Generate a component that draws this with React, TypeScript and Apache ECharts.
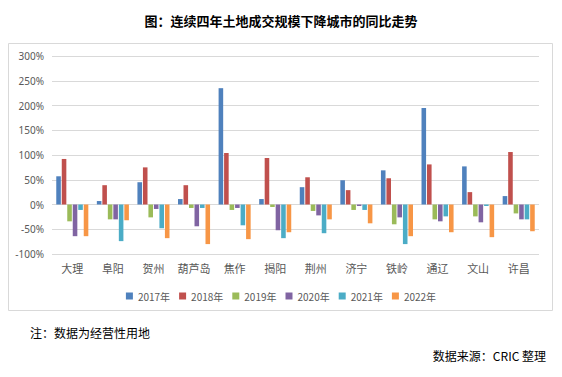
import React, { useEffect, useRef } from "react";
import * as echarts from "echarts";

const categories = ["大理", "阜阳", "贺州", "葫芦岛", "焦作", "揭阳", "荆州", "济宁", "铁岭", "通辽", "文山", "许昌"];
const years = ["2017年", "2018年", "2019年", "2020年", "2021年", "2022年"];
const v2017 = [57, 7, 45, 11, 235, 11, 35, 49, 69, 195, 77, 17];
const v2018 = [92, 39, 75, 39, 104, 94, 55, 29, 53, 81, 25, 106];
const v2019 = [-34, -30, -26, -7, -11, -5, -13, -11, -40, -30, -24, -18];
const v2020 = [-64, -30, -9, -44, -7, -52, -22, -3, -26, -34, -36, -30];
const v2021 = [-11, -74, -48, -7, -42, -68, -58, -11, -80, -24, -3, -30];
const v2022 = [-64, -32, -68, -80, -70, -56, -30, -38, -64, -56, -66, -54];
const colors = ["#4f81bd", "#c0504d", "#9bbb59", "#8064a2", "#4bacc6", "#f79646"];
const seriesData = [v2017, v2018, v2019, v2020, v2021, v2022];

export default function App() {
  const ref = useRef<HTMLDivElement>(null);
  useEffect(() => {
    if (!ref.current) return;
    const chart = echarts.init(ref.current, undefined, { renderer: "svg" });
    chart.setOption({
      animation: false,
      backgroundColor: "#ffffff",
      color: colors,
      title: {
        text: "图：连续四年土地成交规模下降城市的同比走势",
        left: "center",
        top: 9,
        textStyle: { fontFamily: "Noto Sans CJK SC", fontSize: 13, fontWeight: "bold", color: "#000" },
      },
      legend: {
        data: years,
        top: 286,
        left: "center",
        itemWidth: 7,
        itemHeight: 7,
        itemGap: 9,
        icon: "rect",
        textStyle: { fontFamily: "Noto Sans CJK SC", fontSize: 10, color: "#595959" },
      },
      grid: { left: 52, right: 23, top: 56, bottom: 123 },
      xAxis: {
        type: "category",
        data: categories,
        axisLine: { show: false },
        axisTick: { show: false },
        axisLabel: { interval: 0, color: "#595959", fontSize: 11, fontFamily: "Noto Sans CJK SC", margin: 8 },
      },
      yAxis: {
        type: "value",
        min: -100,
        max: 300,
        interval: 50,
        axisLine: { show: false },
        axisTick: { show: false },
        splitLine: { lineStyle: { color: "#d9d9d9", width: 1 } },
        axisLabel: { formatter: "{value}%", color: "#595959", fontSize: 10, fontFamily: "Noto Sans", margin: 8 },
      },
      series: seriesData.map((d, i) => ({
        name: years[i],
        type: "bar",
        data: d,
        barGap: "20%",
        barCategoryGap: "21%",
        itemStyle: { color: colors[i] },
      })),
      graphic: [
        {
          type: "rect",
          shape: { x: 8.5, y: 43.5, width: 544, height: 267 },
          style: { fill: "none", stroke: "#d9d9d9", lineWidth: 1 },
          silent: true,
        },
        {
          type: "text",
          left: 30,
          top: 326,
          style: { text: "注：数据为经营性用地", fontSize: 12, fontFamily: "Noto Sans CJK SC", fill: "#000" },
        },
        {
          type: "text",
          right: 16,
          top: 349,
          style: { text: "数据来源：CRIC 整理", fontSize: 12, fontFamily: "Noto Sans CJK SC", fill: "#000" },
        },
      ],
    });
    return () => chart.dispose();
  }, []);
  return <div ref={ref} style={{ position: "absolute", left: 0, top: 0, width: 562, height: 377 }} />;
}
